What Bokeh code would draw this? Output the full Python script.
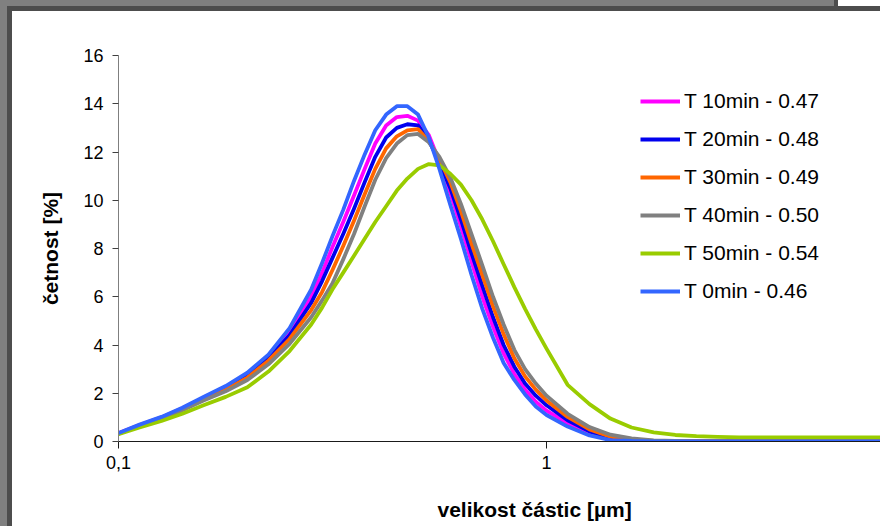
from bokeh.plotting import figure
from bokeh.models import (Range1d, FixedTicker, Legend, LegendItem, Title,
                          CustomJSTickFormatter, Spacer)
from bokeh.layouts import column, row
from bokeh.embed import file_html
from bokeh.resources import INLINE

# particle size classes [um]
sizes = [0.1, 0.112, 0.126, 0.141, 0.158, 0.178, 0.2, 0.224, 0.251, 0.282,
         0.299, 0.316, 0.335, 0.355, 0.376, 0.398, 0.422, 0.447, 0.473, 0.501,
         0.531, 0.562, 0.596, 0.631, 0.668, 0.708, 0.75, 0.794, 0.841, 0.891, 0.944,
         1.0, 1.12, 1.26, 1.41, 1.58, 1.78, 2.0, 2.24, 2.51, 2.82, 3.16, 3.55,
         3.98, 4.47, 5.01, 5.62, 6.31]

t10 = [0.35, 0.68, 1.00, 1.38, 1.82, 2.25, 2.78, 3.52, 4.55, 6.00,
       7.00, 8.05, 9.10, 10.20, 11.30, 12.35, 13.10, 13.45, 13.50, 13.30,
       12.70, 11.60, 10.30, 8.90, 7.45, 6.00, 4.75, 3.65, 2.80, 2.15, 1.65,
       1.28, 0.75, 0.33, 0.10, 0.03, 0, 0, 0, 0, 0, 0, 0, 0, 0, 0, 0, 0]
t20 = [0.33, 0.66, 0.98, 1.35, 1.78, 2.20, 2.72, 3.45, 4.40, 5.75,
       6.65, 7.60, 8.60, 9.65, 10.75, 11.80, 12.60, 13.00, 13.15, 13.10,
       12.50, 11.55, 10.50, 9.20, 7.80, 6.45, 5.15, 4.00, 3.10, 2.40, 1.90,
       1.50, 0.88, 0.42, 0.15, 0.05, 0.01, 0, 0, 0, 0, 0, 0, 0, 0, 0, 0, 0]
t30 = [0.33, 0.65, 0.96, 1.32, 1.74, 2.15, 2.65, 3.35, 4.25, 5.45,
       6.20, 7.10, 8.10, 9.15, 10.25, 11.30, 12.15, 12.65, 12.90, 12.95,
       12.45, 11.70, 10.75, 9.55, 8.20, 6.90, 5.60, 4.45, 3.45, 2.70, 2.15,
       1.70, 1.02, 0.50, 0.20, 0.08, 0.02, 0, 0, 0, 0, 0, 0, 0, 0, 0, 0, 0]
t40 = [0.32, 0.63, 0.94, 1.29, 1.70, 2.08, 2.55, 3.20, 4.05, 5.15,
       5.85, 6.55, 7.55, 8.60, 9.75, 10.85, 11.75, 12.35, 12.70, 12.75,
       12.40, 11.80, 10.95, 9.85, 8.60, 7.30, 6.00, 4.85, 3.80, 3.00, 2.40,
       1.90, 1.15, 0.60, 0.28, 0.13, 0.05, 0.02, 0, 0, 0, 0, 0, 0, 0, 0, 0, 0]
t50 = [0.30, 0.58, 0.85, 1.15, 1.50, 1.85, 2.25, 2.90, 3.75, 4.85,
       5.55, 6.30, 7.00, 7.70, 8.40, 9.10, 9.75, 10.40, 10.90, 11.30,
       11.50, 11.45, 11.10, 10.65, 10.00, 9.20, 8.30, 7.35, 6.40, 5.50, 4.65,
       3.85, 2.35, 1.55, 0.95, 0.58, 0.38, 0.27, 0.22, 0.19, 0.17, 0.17, 0.17,
       0.17, 0.17, 0.17, 0.17, 0.17]
t0 = [0.35, 0.70, 1.02, 1.40, 1.85, 2.30, 2.85, 3.60, 4.70, 6.30,
      7.40, 8.50, 9.60, 10.80, 11.90, 12.90, 13.55, 13.90, 13.90, 13.55,
      12.60, 11.30, 9.80, 8.40, 6.90, 5.50, 4.30, 3.25, 2.55, 1.95, 1.45,
      1.10, 0.62, 0.25, 0.06, 0.02, 0, 0, 0, 0, 0, 0, 0, 0, 0, 0, 0, 0]

series_names = ["T 10min - 0.47", "T 20min - 0.48", "T 30min - 0.49",
                "T 40min - 0.50", "T 50min - 0.54", "T 0min - 0.46"]
series_values = [t10, t20, t30, t40, t50, t0]
series_colors = ["#ff00ff", "#0000ee", "#ff6600", "#808080", "#99cc00", "#3366ff"]

y_ticks = [0, 2, 4, 6, 8, 10, 12, 14, 16]
x_ticks = [0.1, 1, 10]

FONT = "Liberation Sans"

p = figure(width=868, height=515, x_axis_type="log",
           x_range=Range1d(0.1, 6.03), y_range=Range1d(0, 16),
           output_backend="svg", toolbar_location=None,
           min_border_left=106, min_border_right=0,
           min_border_top=44, min_border_bottom=85)
p.outline_line_color = None
p.grid.grid_line_color = None
p.background_fill_color = "white"
p.border_fill_color = "white"

items = []
for name, vals, col in zip(series_names, series_values, series_colors):
    r = p.line(sizes, vals, line_color=col, line_width=3.8, line_join="round")
    items.append(LegendItem(label=name, renderers=[r]))

legend = Legend(items=items, location=(522, 138), border_line_color=None,
                background_fill_alpha=0, padding=0, margin=0, spacing=14,
                glyph_width=40, glyph_height=24, label_height=24,
                label_standoff=4, label_text_font_size="21px",
                label_text_font=FONT, label_text_color="black")
p.add_layout(legend)

# axes
p.yaxis.ticker = FixedTicker(ticks=y_ticks)
p.yaxis.axis_line_color = "#7f7f7f"
p.yaxis.major_tick_line_color = "#404040"
p.yaxis.major_tick_out = 6
p.yaxis.major_tick_in = 0
p.yaxis.minor_tick_line_color = None
p.yaxis.major_label_text_font = FONT
p.yaxis.major_label_text_font_size = "18px"
p.yaxis.major_label_text_color = "black"
p.yaxis.major_label_standoff = 9
p.yaxis.axis_label = "četnost [%]"
p.yaxis.axis_label_text_font = FONT
p.yaxis.axis_label_text_font_style = "bold"
p.yaxis.axis_label_text_font_size = "21px"
p.yaxis.axis_label_text_color = "black"
p.yaxis.axis_label_standoff = 18

p.xaxis.ticker = FixedTicker(ticks=x_ticks)
p.xaxis.formatter = CustomJSTickFormatter(code="return tick.toString().replace('.', ',');")
p.xaxis.axis_line_color = "#1a1a1a"
p.xaxis.major_tick_line_color = "#1a1a1a"
p.xaxis.major_tick_out = 7
p.xaxis.major_tick_in = 0
p.xaxis.minor_tick_line_color = None
p.xaxis.major_label_text_font = FONT
p.xaxis.major_label_text_font_size = "18px"
p.xaxis.major_label_text_color = "black"
p.xaxis.major_label_standoff = 7

p.add_layout(Title(text="velikost částic [µm]", align="left", offset=319,
                   standoff=0, padding=dict(top=24, right=0, bottom=0, left=0),
                   text_font=FONT, text_font_style="bold",
                   text_font_size="21px", text_color="black"), "below")

# window-frame decoration around the chart
top_bar = Spacer(width=880, height=11, styles={
    "background": "linear-gradient(to right, #808080 7px, transparent 7px), "
                  "linear-gradient(to bottom, transparent 6px, #4d4d4d 6px), "
                  "linear-gradient(to right, #808080 834px, #4d4d4d 834px, "
                  "#4d4d4d 838px, #ffffff 838px)"})
left_bar = Spacer(width=12, height=515, styles={
    "background": "linear-gradient(to right, #808080 7px, #4d4d4d 7px)"})

layout = column(top_bar, row(left_bar, p, spacing=0), spacing=0)

open("out.html", "w").write(file_html(layout, INLINE))
